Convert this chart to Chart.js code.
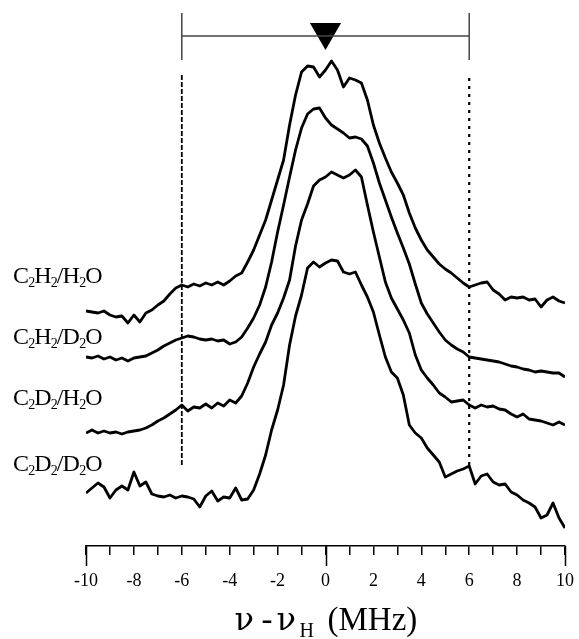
<!DOCTYPE html>
<html><head><meta charset="utf-8">
<script src="https://cdn.jsdelivr.net/npm/chart.js@4"></script>
<style>html,body{margin:0;padding:0;background:#fff}</style>
</head><body>
<canvas id="c" width="579" height="639"></canvas>
<script>
// Frequency offset nu - nu_H (MHz)
const freq = [-10,-9.75,-9.5,-9.25,-9,-8.75,-8.5,-8.25,-8,-7.75,-7.5,-7.25,-7,-6.75,-6.5,-6.25,-6,-5.75,-5.5,-5.25,-5,-4.75,-4.5,-4.25,-4,-3.75,-3.5,-3.25,-3,-2.75,-2.5,-2.25,-2,-1.75,-1.5,-1.25,-1,-0.75,-0.5,-0.25,0,0.25,0.5,0.75,1,1.25,1.5,1.75,2,2.25,2.5,2.75,3,3.25,3.5,3.75,4,4.25,4.5,4.75,5,5.25,5.5,5.75,6,6.25,6.5,6.75,7,7.25,7.5,7.75,8,8.25,8.5,8.75,9,9.25,9.5,9.75,10];
// Stacked spectra (arbitrary intensity units, offsets included)
const c2h2_h2o = [235,234,233,235,231,229,230,223,231,224,233,236,241,245,252,258,261,259,262,260,263,261,264,261,265,270,273,284,296,311,326,346,366,386,421,451,474,480,479,469,476,485,476,459,468,466,463,446,421,403,388,374,363,351,333,318,306,296,289,282,277,273,268,263,259,261,263,264,256,252,246,249,248,249,246,247,239,246,249,245,243];
const c2h2_d2o = [189,188,190,187,189,186,188,185,188,189,190,193,196,200,203,206,208,210,209,207,206,207,205,206,202,204,209,218,228,241,259,284,314,341,369,396,418,432,437,438,428,421,417,413,408,409,407,400,383,363,346,329,313,298,282,262,243,232,223,214,206,201,197,194,189,188,187,186,185,184,182,180,179,177,176,174,175,174,173,173,169];
const c2d2_h2o = [113,116,113,115,113,114,112,114,115,116,118,121,125,128,132,136,141,135,139,138,142,138,143,140,146,143,150,163,179,192,204,221,233,248,266,300,326,342,360,366,369,374,371,368,371,376,369,341,314,289,264,248,237,226,213,191,176,168,161,153,149,144,145,146,141,138,141,139,140,137,136,132,129,132,127,126,125,123,121,124,121];
const c2d2_d2o = [53,58,63,59,48,56,60,56,74,60,64,52,50,49,51,48,50,49,47,39,50,55,45,49,48,58,46,47,56,72,91,116,136,161,201,230,251,278,284,279,283,286,285,274,272,274,261,249,234,211,189,174,168,151,121,113,108,98,91,84,69,72,75,77,80,62,70,72,64,61,62,54,51,46,43,39,28,31,43,28,18];
const seriesNames = ['C2H2/H2O','C2H2/D2O','C2D2/H2O','C2D2/D2O'];
const tickValues = [-10,-8,-6,-4,-2,0,2,4,6,8,10];
// Reference markers
const refLinesX = [-6, 6];
const refLineSpan = [81, 471];
const bracketX = [-6, 6];
const bracketLevel = 510;
const bracketSpan = [486, 533];
const markerX = 0;
const markerLevel = 514;

const toXY = (arr) => freq.map((f, i) => ({x: f, y: arr[i]}));
const traceDs = (label, arr) => ({label, data: toXY(arr), showLine: true, borderColor: '#000', borderWidth: 2.8, pointRadius: 0, tension: 0, borderJoinStyle: 'round'});

const datasets = [
  traceDs(seriesNames[0], c2h2_h2o),
  traceDs(seriesNames[1], c2h2_d2o),
  traceDs(seriesNames[2], c2d2_h2o),
  traceDs(seriesNames[3], c2d2_d2o),
  {label:'ref-6', data:[{x:refLinesX[0],y:refLineSpan[0]},{x:refLinesX[0],y:refLineSpan[1]}], showLine:true, borderColor:'#000', borderWidth:1.8, borderDash:[5,2], pointRadius:0},
  {label:'ref+6', data:[{x:refLinesX[1],y:refLineSpan[0]},{x:refLinesX[1],y:refLineSpan[1]}], showLine:true, borderColor:'#000', borderWidth:2.2, borderDash:[3,5], pointRadius:0},
  {label:'bracketH', data:[{x:bracketX[0],y:bracketLevel},{x:bracketX[1],y:bracketLevel}], showLine:true, borderColor:'#444', borderWidth:1.5, pointRadius:0},
  {label:'bracketL', data:[{x:bracketX[0],y:bracketSpan[0]},{x:bracketX[0],y:bracketSpan[1]}], showLine:true, borderColor:'#444', borderWidth:1.5, pointRadius:0},
  {label:'bracketR', data:[{x:bracketX[1],y:bracketSpan[0]},{x:bracketX[1],y:bracketSpan[1]}], showLine:true, borderColor:'#444', borderWidth:1.5, pointRadius:0},
  {label:'marker', data:[{x:markerX,y:markerLevel}], showLine:false, pointStyle:'triangle', rotation:180, pointRadius:18, backgroundColor:'#000', borderColor:'#000', borderWidth:0}
];

const labelBaselines = [283, 344, 405, 471];
function drawChem(ctx, text, x, y) {
  let cx = x;
  for (const ch of text) {
    const sub = /[0-9]/.test(ch);
    ctx.font = sub ? '14px "Liberation Serif"' : '24px "Liberation Serif"';
    ctx.fillText(ch, cx, sub ? y + 4 : y);
    cx += ctx.measureText(ch).width - (sub ? 1 : 0.8);
  }
}

const deco = {
  id: 'deco',
  afterDraw(chart) {
    const ctx = chart.ctx, xs = chart.scales.x;
    const bottom = chart.chartArea.bottom;
    ctx.save();
    ctx.strokeStyle = '#000'; ctx.lineWidth = 1.5;
    [-10, 0, 10].forEach(v => {
      const px = Math.round(xs.getPixelForValue(v)) + 0.5;
      ctx.beginPath(); ctx.moveTo(px, bottom); ctx.lineTo(px, bottom + 20); ctx.stroke();
    });
    ctx.fillStyle = '#000';
    ctx.textBaseline = 'alphabetic'; ctx.textAlign = 'left';
    seriesNames.forEach((n, i) => drawChem(ctx, n, 13, labelBaselines[i]));
    // axis title: ν-ν_H (MHz)
    const cx = xs.getPixelForValue(0);
    const by = 630;
    const greek = '32px "DejaVu Serif"', big = '33px "Liberation Serif"', small = '20px "Liberation Serif"';
    const parts = [['ν', greek, -91, 0], ['-', big, -64, 0], ['ν', greek, -49, 0], ['H', small, -26, 7], ['(MHz)', big, 2, 0]];
    parts.forEach(p => { ctx.font = p[1]; ctx.fillText(p[0], cx + p[2], by + p[3]); });
    ctx.restore();
  }
};

new Chart(document.getElementById('c'), {
  type: 'scatter',
  data: { datasets },
  options: {
    responsive: false, animation: false, devicePixelRatio: 1,
    layout: { autoPadding: false, padding: { left: 86, right: 14, top: 0, bottom: 0 } },
    plugins: { legend: { display: false }, tooltip: { enabled: false } },
    scales: {
      x: {
        type: 'linear', min: -10, max: 10,
        afterFit: s => { s.height = 93; s.paddingLeft = 0; s.paddingRight = 0; },
        border: { display: true, color: '#000', width: 1.5 },
        grid: { display: true, drawOnChartArea: false, drawTicks: true, tickLength: 9, color: '#000', lineWidth: 1.5 },
        ticks: { stepSize: 1, autoSkip: false, maxRotation: 0, color: '#000', padding: 15,
          font: { family: 'Liberation Serif', size: 18 },
          callback: v => tickValues.includes(v) ? String(v) : '' }
      },
      y: { display: false, min: 0, max: 546 }
    }
  },
  plugins: [deco]
});
</script>
</body></html>
